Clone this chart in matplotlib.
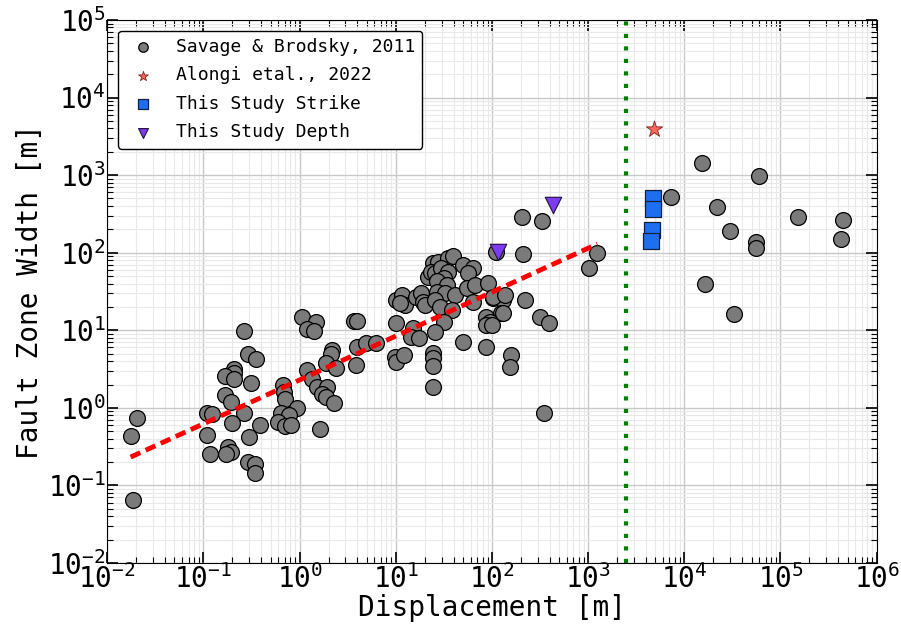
import numpy as np
import matplotlib
matplotlib.use('Agg')
import matplotlib.pyplot as plt
from matplotlib.ticker import LogLocator, NullFormatter

# fonts: everything in mono, tick labels too
plt.rcParams['font.family'] = ['DejaVu Sans Mono']
plt.rcParams['mathtext.fontset'] = 'custom'
plt.rcParams['mathtext.rm'] = 'DejaVu Sans Mono'
plt.rcParams['mathtext.it'] = 'DejaVu Sans Mono:italic'
plt.rcParams['mathtext.bf'] = 'DejaVu Sans Mono:bold'

# Savage & Brodsky, 2011 compilation (displacement [m], width [m])
savage_disp = [
    0.0203, 0.0175, 0.0186,
    0.108, 0.124, 0.108, 0.116,
    0.265, 0.29, 0.35, 0.207, 0.21, 0.167, 0.207, 0.31, 0.168, 0.192, 0.262,
    0.196, 0.39, 0.295, 0.18, 0.195, 0.17, 0.29, 0.34, 0.34,
    1.07, 1.49, 1.2, 1.41, 3.7, 4.0, 10.0,
    2.19, 2.14, 1.9, 2.37, 1.2, 1.36, 1.53, 1.95, 1.72, 1.86, 2.27, 1.62,
    0.68, 0.69, 0.71, 0.93, 0.64, 0.77, 0.6, 0.71, 0.81,
    3.82, 3.98, 4.96, 6.3, 9.9, 10.0, 12.2,
    10.0, 11.7, 12.4, 11.0, 16.4, 18.5, 19.3, 20.1, 21.7, 24.5, 27.6, 35, 39.4,
    23, 25.7, 29.5, 35, 31.4, 26.6, 33.7, 26.6, 32.3, 41.4, 25.7, 28.7, 38,
    31.4, 25.7, 50, 63.7, 56.8, 54.6, 66.4, 63.7, 91.4, 103, 130, 125, 87.5,
    94.7, 87, 101, 15.1, 14.5, 17.5, 50, 87, 24.5, 24.3, 24.5, 24.3,
    203, 334, 110, 208, 1250, 1010, 103, 136, 219, 130, 313, 392, 159, 155, 345,
    15300, 60400, 7310, 21800, 153000, 450000, 29600, 55800, 55000, 425000,
    16600, 33100,
]
savage_width = [
    0.73, 0.43, 0.065,
    0.865, 0.83, 0.45, 0.254,
    9.9, 4.9, 4.25, 3.19, 2.78, 2.57, 2.35, 2.07, 1.45, 1.2, 0.865,
    0.643, 0.595, 0.417, 0.315, 0.272, 0.254, 0.2, 0.19, 0.146,
    14.7, 12.6, 10.3, 9.8, 13.0, 13.3, 12.5,
    5.55, 4.9, 3.74, 3.23, 3.07, 2.35, 1.84, 1.86, 1.5, 1.39, 1.16, 0.53,
    1.97, 1.61, 1.29, 0.986, 0.865, 0.81, 0.66, 0.58, 0.6,
    3.56, 6.1, 6.9, 6.8, 4.56, 3.93, 4.8,
    24.5, 28.4, 21.1, 22.2, 27, 29.9, 23.3, 21.1, 48.9, 72.8, 76.4, 84.4, 90.4,
    56.7, 54.1, 62.8, 56.7, 46.7, 43.1, 38.2, 31.3, 29.9, 28.4, 24.5, 20.1, 18.2,
    12.9, 9.6, 69.2, 62.8, 54.1, 34.7, 38.2, 23.3, 40.2, 25.8, 24.5, 16.5, 14.9,
    12.9, 11.7, 11.7, 10.6, 8.3, 7.86, 7.1, 6.02, 5.04, 4.35, 3.46, 1.84,
    290, 255, 102, 96, 98, 62.8, 27, 28.4, 24.5, 16.8, 14.9, 12.3, 4.8, 3.33, 0.85,
    1440, 970, 525, 384, 290, 263, 191, 138, 114, 148,
    39.4, 16.2,
]

# Alongi et al., 2022
alongi_disp = [4800]
alongi_width = [3900]

# this study
strike_disp = [4750, 4700, 4600, 4550]
strike_width = [500, 361, 195, 142]
depth_disp = [116, 432]
depth_width = [103, 410]

# power-law fit W = a * D^b for the data left of the boundary
fit_a = 2.29
fit_b = 0.566
boundary_disp = 2450

fig = plt.figure(figsize=(9.01, 6.26), dpi=100)
ax = fig.add_axes([0.119, 0.1006, 0.854, 0.8675])

ax.scatter(savage_disp, savage_width, s=130, c='#7a7a7a', edgecolors='black',
           linewidths=0.9, zorder=3, label='Savage & Brodsky, 2011')
ax.scatter(alongi_disp, alongi_width, s=150, marker='*', c='#f8695a',
           edgecolors='#7a2020', linewidths=0.6, zorder=4, label='Alongi etal., 2022')
ax.scatter(strike_disp, strike_width, s=130, marker='s', c='#1e6ff0',
           edgecolors='#102040', linewidths=0.9, zorder=4, label='This Study Strike')
ax.scatter(depth_disp, depth_width, s=140, marker='v', c='#7d3cf0',
           edgecolors='#201040', linewidths=0.8, zorder=5, label='This Study Depth')

d = np.array(savage_disp)
left = d[d < boundary_disp]
xfit = np.array([left.min(), left.max()])
ax.plot(xfit, fit_a * xfit ** fit_b, color='red', lw=3.5, dashes=(2.2, 1.2), zorder=6)

ax.axvline(boundary_disp, color='green', lw=3, dashes=(1, 2), zorder=2)

ax.set_xscale('log')
ax.set_yscale('log')
ax.set_xlim(1e-2, 1e6)
ax.set_ylim(1e-2, 1e5)

for axis in (ax.xaxis, ax.yaxis):
    axis.set_major_locator(LogLocator(base=10, numticks=20))
    axis.set_minor_locator(LogLocator(base=10, subs=np.arange(2, 10), numticks=200))
    axis.set_minor_formatter(NullFormatter())

ax.tick_params(which='both', direction='in', top=True, right=True)
ax.tick_params(which='major', length=8, width=1.2, labelsize=20, pad=1)
ax.tick_params(which='minor', length=4, width=0.8)
ax.grid(which='major', color='#c8c8c8', lw=1.0)
ax.grid(which='minor', color='#e8e8e8', lw=0.8)
ax.set_axisbelow(True)

ax.set_xlabel('Displacement [m]', fontsize=20, labelpad=0)
ax.set_ylabel('Fault Zone Width [m]', fontsize=20, labelpad=3)

leg = ax.legend(loc='upper left', fontsize=13, markerscale=0.6, framealpha=1,
                edgecolor='black', borderaxespad=0.6, labelspacing=0.58)
leg.get_frame().set_linewidth(1.0)

fig.savefig('out.png', dpi=100)
